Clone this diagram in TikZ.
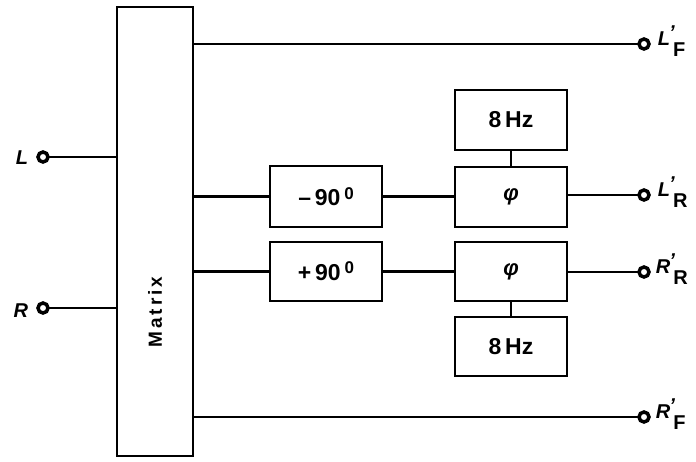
\documentclass[tikz,border=0pt]{standalone}
\usepackage{fontspec}
\setmainfont{Liberation Sans}
\newcommand{\outlbl}[2]{\textit{#1}\rlap{\raisebox{0.3em}{\hspace{-0.05em}\textit{'}}}\raisebox{-0.55em}{\hspace{0.15em}#2}}
\begin{document}
\begin{tikzpicture}[x=1pt,y=-1pt,
  blk/.style={draw,line width=1.9pt,inner sep=0pt},
  wire/.style={line width=2.4pt},
  term/.style={circle,draw,line width=3.5pt,minimum size=10pt,inner sep=0pt,fill=white},
  lbl/.style={font=\fontsize{20}{22}\selectfont\bfseries,inner sep=0pt},
  btxt/.style={font=\fontsize{23}{25}\selectfont\bfseries}]
\useasboundingbox (0,0) rectangle (696,461);
% Matrix
\node[blk,minimum width=76pt,minimum height=449pt] (mx) at (155,231.5) {};
\node[rotate=90,font=\fontsize{19}{21}\selectfont\bfseries\addfontfeature{LetterSpace=16}] (mxt) at (155,312) {Matrix};
% boxes
\node[blk,btxt,minimum width=112pt,minimum height=61pt] (m90) at (326,196.5) {–\,90\,\raisebox{0.5ex}{\fontsize{17}{18}\selectfont 0}};
\node[blk,btxt,minimum width=112pt,minimum height=59pt] (p90) at (326,271.5) {+\,90\,\raisebox{0.6ex}{\fontsize{17}{18}\selectfont 0}};
\node[blk,btxt,minimum width=112pt,minimum height=60pt,font=\fontsize{22}{24}\selectfont\bfseries\itshape] (phi1) at (511,197) {\symbol{"03C6}};
\node[blk,btxt,minimum width=112pt,minimum height=59pt,font=\fontsize{22}{24}\selectfont\bfseries\itshape] (phi2) at (511,271.5) {\symbol{"03C6}};
\node[blk,btxt,minimum width=112pt,minimum height=60pt] (hz1) at (511,120) {8\,Hz};
\node[blk,btxt,minimum width=112pt,minimum height=59pt] (hz2) at (511,346.5) {8\,Hz};
% wires (drawn to coordinates first, terminals on top)
\coordinate (cL) at (43,157);
\coordinate (cR) at (43,308);
\coordinate (cLF) at (644,44);
\coordinate (cLR) at (644,195);
\coordinate (cRR) at (644,272);
\coordinate (cRF) at (644,417);
\draw[wire] (cL) -- (cL -| mx.west);
\draw[wire] (cR) -- (cR -| mx.west);
\draw[wire] (cLF -| mx.east) -- (cLF);
\draw[wire] (cRF -| mx.east) -- (cRF);
\draw[wire] (m90.west -| mx.east) -- (m90.west);
\draw[wire] (p90.west -| mx.east) -- (p90.west);
\draw[wire] (m90.east) -- (m90.east -| phi1.west);
\draw[wire] (p90.east) -- (p90.east -| phi2.west);
\draw[wire] (phi1.east |- cLR) -- (cLR);
\draw[wire] (phi2.east |- cRR) -- (cRR);
\draw[wire] (hz1.south) -- (phi1.north);
\draw[wire] (phi2.south) -- (hz2.north);
% terminals
\node[term] (tL) at (cL) {};
\node[term] (tR) at (cR) {};
\node[term] (tLF) at (cLF) {};
\node[term] (tLR) at (cLR) {};
\node[term] (tRR) at (cRR) {};
\node[term] (tRF) at (cRF) {};
% labels
\node[lbl,anchor=east] (lL) at (tL.west) [xshift=-8pt,yshift=-1pt] {\textit{L}};
\node[lbl,anchor=east] (lR) at (tR.west) [xshift=-8pt,yshift=-3pt] {\textit{R}};
\node[lbl,anchor=west] (lLF) at (tLF.east) [xshift=7pt,yshift=3pt] {\outlbl{L}{F}};
\node[lbl,anchor=west] (lLR) at (tLR.east) [xshift=7pt,yshift=3pt] {\outlbl{L}{R}};
\node[lbl,anchor=west] (lRR) at (tRR.east) [xshift=5pt,yshift=3pt] {\outlbl{R}{R}};
\node[lbl,anchor=west] (lRF) at (tRF.east) [xshift=5pt,yshift=3pt] {\outlbl{R}{F}};
\end{tikzpicture}
\end{document}
